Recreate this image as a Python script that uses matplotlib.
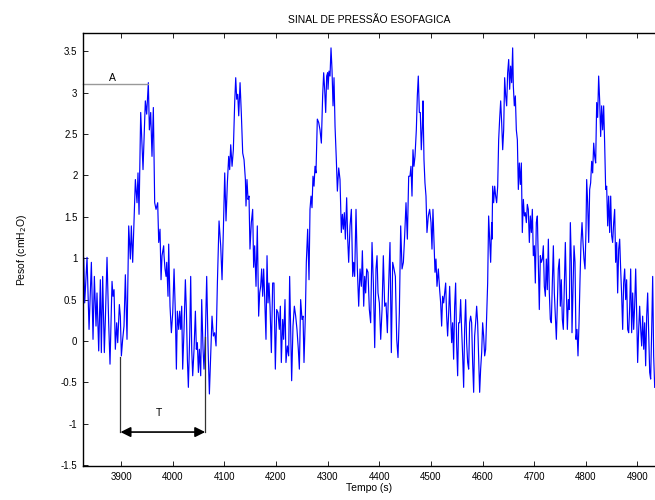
import numpy as np
import matplotlib
matplotlib.use("Agg")
import matplotlib.pyplot as plt

plt.rcParams['font.family'] = ['Liberation Sans', 'DejaVu Sans']

# ---- data: time (s) and oesophageal pressure (cmH2O) ----
t1 = [3824.5, 3827.7, 3829.7, 3834.2, 3838.1, 3842.6, 3845.8, 3848.4, 3851.6, 3853.5,
      3856.8, 3860.0, 3861.9, 3864.5, 3867.7, 3869.7, 3872.9, 3876.1, 3878.7, 3882.6,
      3884.5, 3886.5, 3889.0, 3891.6, 3893.6, 3896.8, 3898.7, 3900.7, 3903.2, 3905.8,
      3908.4, 3911.6, 3914.9, 3918.1, 3920.0, 3922.6, 3924.5, 3927.8, 3931.0, 3932.9,
      3934.9, 3938.1, 3942.6, 3947.1, 3949.7, 3952.9, 3954.9, 3957.5, 3960.0, 3962.6,
      3965.2, 3967.8, 3971.0, 3973.0, 3975.5, 3977.5, 3979.4, 3982.6]
p1 = [0.75, 1.01, 0.46, 1.01, 0.14, 0.95, 0.02, 0.78, 0.18, 0.58,
      -0.12, 0.74, -0.14, 0.78, -0.14, 0.26, 1.01, 0.22, -0.28, 0.72,
      0.54, 0.62, -0.10, 0.22, -0.02, 0.44, 0.30, -0.18, 0.02, 0.18,
      0.80, 0.02, 1.39, 0.99, 1.39, 0.95, 1.31, 1.95, 1.67, 2.03,
      1.53, 2.76, 2.07, 2.90, 2.74, 3.12, 2.55, 2.76, 2.23, 2.82,
      1.67, 1.59, 1.67, 1.19, 1.35, 0.74, 1.03, 1.15]

t2 = [3983.3, 3985.2, 3987.2, 3988.5, 3991.0, 3992.3, 3994.9, 3997.5, 4000.1, 4002.7,
      4005.2, 4007.2, 4009.1, 4011.7, 4013.6, 4015.6, 4017.5, 4019.4, 4022.0, 4024.6,
      4026.5, 4028.5, 4030.4, 4033.0, 4034.9, 4036.9, 4038.8, 4041.4, 4044.0, 4045.9,
      4047.8, 4049.8, 4051.7, 4054.3, 4056.2, 4058.8, 4060.7, 4063.3, 4065.9, 4068.5,
      4071.1, 4073.7, 4076.2, 4078.8, 4081.4, 4084.0, 4086.6, 4089.8, 4093.0, 4095.6,
      4098.2, 4100.8, 4103.3, 4105.9, 4108.5, 4110.4, 4112.4, 4115.0, 4117.5, 4120.1,
      4122.1, 4124.0, 4126.0, 4127.9, 4130.5, 4133.0, 4135.6, 4138.2, 4140.8]
p2 = [1.03, 0.87, 0.78, 0.95, 0.54, 1.17, 0.42, 0.10, 0.34, 0.87,
      0.34, -0.34, 0.36, 0.14, 0.36, 0.14, 0.42, -0.34, 0.14, 0.74,
      0.38, -0.22, -0.56, 0.06, 0.78, -0.10, -0.42, -0.10, 0.36, -0.10,
      -0.02, -0.38, -0.10, -0.42, 0.50, -0.10, -0.34, 0.06, 0.78, -0.06,
      -0.64, -0.18, 0.30, 0.06, 0.10, -0.06, 0.70, 1.45, 1.15, 0.74,
      1.35, 2.03, 1.45, 1.91, 2.23, 2.07, 2.37, 2.11, 2.31, 2.88,
      3.18, 2.92, 2.98, 2.72, 3.12, 2.74, 2.27, 2.19, 1.95]

t3 = [4142.0, 4143.9, 4145.9, 4147.8, 4149.7, 4152.3, 4154.9, 4156.8, 4158.8, 4161.4,
      4163.9, 4166.5, 4168.5, 4170.4, 4172.3, 4174.3, 4176.2, 4178.1, 4180.7, 4182.7,
      4184.6, 4186.5, 4188.5, 4191.1, 4193.6, 4196.2, 4198.8, 4201.4, 4204.0, 4206.5,
      4208.5, 4210.4, 4213.0, 4214.9, 4217.5, 4219.4, 4222.0, 4224.6, 4226.5, 4228.5,
      4230.4, 4233.0, 4235.6, 4238.2, 4240.7, 4243.3, 4245.3, 4247.8, 4250.4, 4252.4,
      4254.3, 4256.9, 4258.8, 4261.4, 4264.0, 4265.9, 4267.9, 4269.8, 4271.7, 4273.7,
      4275.6, 4277.5, 4280.1, 4282.7, 4285.3, 4287.9, 4290.4, 4292.4, 4294.3, 4296.3,
      4298.2, 4300.1]
p3 = [1.63, 1.95, 1.71, 1.75, 1.11, 1.43, 1.59, 0.89, 1.15, 0.66,
      1.39, 0.30, 0.58, 0.66, 0.87, 0.54, 0.87, 0.54, 0.02, 1.03,
      0.46, 0.70, 0.42, -0.14, 0.70, 0.70, -0.34, 0.38, 0.34, 0.14,
      0.42, -0.26, 0.26, 0.02, 0.50, -0.26, -0.06, -0.18, 0.78, 0.14,
      -0.48, 0.18, 0.42, 0.30, 0.14, -0.10, -0.34, 0.50, 0.26, 0.30,
      -0.26, 0.30, 0.95, 1.35, 0.74, 1.59, 1.75, 1.61, 1.99, 1.87,
      2.11, 2.03, 2.68, 2.64, 2.55, 2.39, 2.96, 3.24, 3.04, 2.76,
      3.20, 3.24]

t4 = [4300.8, 4302.7, 4304.7, 4306.6, 4308.5, 4310.5, 4312.4, 4314.4, 4316.9, 4318.9,
      4321.5, 4324.0, 4326.6, 4328.6, 4330.5, 4332.4, 4334.4, 4336.9, 4338.9, 4340.8,
      4343.4, 4346.0, 4348.6, 4350.5, 4352.4, 4355.0, 4357.6, 4360.2, 4362.8, 4365.3,
      4367.3, 4369.9, 4371.8, 4373.7, 4375.7, 4378.2, 4380.8, 4383.4, 4386.0, 4388.6,
      4391.2, 4393.7, 4395.7, 4397.6, 4400.2, 4402.8, 4405.4, 4407.9, 4410.5, 4413.1,
      4415.7, 4418.3, 4420.8, 4423.4, 4426.0, 4428.6, 4431.2, 4433.8, 4436.3, 4438.9,
      4441.5, 4444.1, 4446.7, 4449.2, 4451.8, 4454.4, 4457.0]
p4 = [3.04, 3.26, 3.20, 3.54, 3.28, 2.84, 3.18, 2.59, 2.19, 1.81,
      2.09, 1.95, 1.31, 1.53, 1.35, 1.55, 1.23, 1.73, 1.23, 0.95,
      1.39, 1.59, 0.78, 0.95, 0.78, 1.59, 0.87, 0.42, 0.87, 0.66,
      1.09, 0.42, 0.78, 0.58, 0.87, 0.83, 0.38, 0.22, 1.19, 0.70,
      -0.08, 0.87, 1.03, 0.58, 0.46, 0.02, 0.38, 1.03, 0.42, 0.46,
      0.10, 0.70, 1.19, -0.14, 0.95, 0.87, 0.78, 0.02, -0.20, 0.34,
      1.39, 0.87, 0.95, 1.27, 1.67, 1.23, 1.99]

t5 = [4459.5, 4461.4, 4463.4, 4465.3, 4467.2, 4469.2, 4471.8, 4473.7, 4475.6, 4477.6,
      4479.5, 4481.4, 4483.4, 4484.7, 4486.6, 4488.5, 4490.5, 4492.4, 4495.0, 4497.6,
      4500.2, 4502.1, 4504.0, 4506.0, 4507.9, 4509.8, 4511.8, 4514.4, 4516.9, 4518.9,
      4520.8, 4522.7, 4524.7, 4526.6, 4528.6, 4530.5, 4532.4, 4534.4, 4536.3, 4538.2,
      4540.2, 4542.1, 4544.0, 4546.0, 4547.9, 4549.9, 4551.8, 4553.7, 4555.7, 4557.6,
      4559.5, 4561.5, 4563.4, 4565.3, 4567.3, 4569.2, 4571.2, 4573.1, 4575.0, 4577.0,
      4578.9, 4580.8, 4582.8, 4584.7, 4586.6, 4588.6, 4590.5, 4592.5, 4594.4, 4596.3,
      4598.3, 4600.2, 4602.1, 4604.1, 4606.0, 4607.9, 4609.9, 4611.8, 4613.7, 4615.7,
      4617.6]
p5 = [1.99, 2.11, 1.75, 2.31, 2.11, 2.23, 2.55, 2.96, 3.20, 2.76,
      2.76, 2.31, 2.59, 2.90, 2.19, 1.91, 1.75, 1.31, 1.51, 1.59,
      1.43, 1.11, 1.59, 1.19, 0.83, 0.99, 0.66, 0.87, 0.62, 0.46,
      0.18, 0.54, 0.46, 0.58, 0.70, 0.30, 0.06, 0.34, 0.66, 0.30,
      -0.02, 0.22, -0.22, 0.42, 0.70, -0.06, -0.42, 0.22, 0.22, 0.50,
      0.14, -0.18, -0.56, 0.14, 0.50, -0.02, -0.26, -0.34, 0.22, 0.30,
      0.22, -0.26, -0.62, 0.06, 0.22, 0.42, 0.22, -0.22, -0.62, -0.34,
      -0.14, 0.22, 0.06, -0.18, -0.10, 0.30, 0.70, 1.51, 1.23, 0.95,
      1.43]

t6 = [4618.3, 4619.6, 4621.5, 4623.5, 4625.4, 4627.3, 4629.3, 4631.2, 4633.1, 4635.1,
      4637.0, 4639.0, 4640.9, 4642.8, 4644.8, 4646.7, 4648.6, 4650.6, 4652.5, 4654.4,
      4656.4, 4658.3, 4659.6, 4661.5, 4663.5, 4665.4, 4667.4, 4669.3, 4671.2, 4673.2,
      4675.1, 4677.0, 4679.0, 4680.9, 4682.8, 4684.8, 4686.7, 4688.6, 4690.6, 4692.5,
      4694.5, 4696.4, 4698.3, 4700.3, 4702.2, 4704.1, 4706.1, 4708.0, 4709.9, 4711.9,
      4713.8, 4715.8, 4717.7, 4719.6, 4721.6, 4723.5, 4725.4, 4727.4, 4729.3, 4731.2,
      4733.2, 4735.1, 4737.1, 4739.0, 4740.9, 4742.9, 4744.8, 4746.7, 4748.7, 4750.6,
      4752.5, 4754.5, 4756.4, 4758.3, 4760.3, 4762.2, 4764.2, 4766.1, 4768.0, 4770.0,
      4771.9]
p6 = [1.23, 1.87, 1.67, 1.87, 1.75, 1.67, 1.87, 2.43, 2.68, 2.90,
      2.64, 2.31, 2.55, 3.18, 2.96, 2.84, 3.24, 3.40, 3.04, 3.32,
      3.12, 3.54, 3.08, 2.84, 2.96, 2.55, 2.43, 1.83, 2.15, 1.89,
      2.15, 1.31, 1.71, 1.51, 1.55, 1.43, 1.65, 1.59, 1.19, 1.51,
      1.31, 1.59, 1.03, 1.15, 0.70, 1.43, 1.51, 0.95, 0.38, 1.03,
      0.95, 0.99, 1.15, 0.66, 0.54, 0.99, 0.62, 1.23, 0.58, 0.26,
      0.22, 0.70, 1.15, 0.58, 0.30, 0.02, 0.46, 0.87, 0.99, 0.42,
      0.74, 0.26, 0.14, 0.66, 1.19, 0.62, 0.14, 0.50, 0.38, 1.43,
      0.95]

t7 = [4773.2, 4775.1, 4777.1, 4779.0, 4780.9, 4782.9, 4784.8, 4786.8, 4788.7, 4790.6,
      4792.6, 4794.5, 4796.4, 4798.4, 4800.3, 4801.6, 4803.5, 4805.5, 4807.4, 4809.3,
      4811.3, 4813.2, 4815.2, 4817.1, 4819.0, 4821.0, 4822.9, 4824.8, 4826.8, 4828.7,
      4830.6, 4832.6, 4834.5, 4836.4, 4838.4, 4840.3, 4842.3, 4844.2, 4846.1, 4848.1,
      4850.0, 4851.9, 4853.9, 4855.8, 4857.7, 4859.7, 4861.6, 4863.6, 4865.5, 4867.4,
      4869.4, 4871.3, 4873.2, 4875.2, 4877.1, 4879.0, 4881.0, 4882.9, 4884.9, 4886.8,
      4888.7, 4890.7, 4892.6, 4894.5, 4896.5, 4898.4, 4900.3, 4902.3, 4904.2, 4906.2,
      4908.1, 4910.0, 4912.0, 4913.9, 4915.8, 4917.8, 4919.7, 4921.6, 4923.6, 4925.5,
      4927.5, 4929.4, 4931.3, 4933.3]
p7 = [0.10, 0.62, 1.15, 0.95, 0.02, 0.14, -0.18, 0.22, 0.74, 1.19,
      1.43, 1.19, 0.99, 0.87, 1.35, 1.95, 1.67, 1.19, 1.83, 1.91,
      2.17, 2.03, 2.39, 2.23, 2.15, 2.88, 2.70, 3.20, 2.90, 2.47,
      2.84, 2.55, 2.84, 2.39, 1.83, 1.87, 1.39, 1.75, 1.31, 1.75,
      1.27, 1.19, 1.43, 1.59, 0.95, 1.19, 0.58, 1.11, 1.23, 0.87,
      0.54, 0.14, 0.70, 0.87, 0.50, 0.74, 0.14, 0.10, 0.42, 0.87,
      0.10, 0.58, 0.14, 0.42, 0.87, 0.34, -0.26, 0.14, 0.42, 0.14,
      -0.06, 0.30, -0.10, 0.22, -0.30, 0.30, 0.58, 0.10, -0.38, -0.46,
      0.14, 0.78, -0.18, -0.56]

xticks = [3900, 4000, 4100, 4200, 4300, 4400, 4500, 4600, 4700, 4800, 4900]
yticks = [-1.5, -1, -0.5, 0, 0.5, 1, 1.5, 2, 2.5, 3, 3.5]

# annotation values
A_level = 3.10
A_end = 3953
T_start, T_end = 3899, 4063
T_start_top, T_end_top = -0.19, 0.05
T_arrow_level = -1.10

time = np.concatenate([t1, t2, t3, t4, t5, t6, t7])
pres = np.concatenate([p1, p2, p3, p4, p5, p6, p7])

fig = plt.figure(figsize=(6.55, 5.0), dpi=100)
ax = fig.add_axes([83 / 655, 34 / 500, 1 - 83 / 655, 433 / 500])
ax.plot(time, pres, color=(0, 0, 1), lw=0.85)

ax.set_xlim(3826.4, 4933.9)
ax.set_ylim(-1.51, 3.72)
ax.set_xticks(xticks)
ax.set_yticks(yticks)
ax.set_yticklabels(['%g' % v for v in yticks])
ax.tick_params(direction='in', length=3.5, width=0.6, labelsize=7, top=True, right=False,
               pad=4, colors='black')
for s in ['top', 'bottom', 'left']:
    ax.spines[s].set_linewidth(1.0)
ax.spines['right'].set_visible(False)

ax.set_title('SINAL DE PRESSÃO ESOFAGICA', fontsize=7.5, pad=7)
ax.set_xlabel('Tempo (s)', fontsize=7.5, labelpad=1)
ax.set_ylabel('Pesof (cmH$_2$O)', fontsize=7.5, labelpad=23)

# annotations A and T
ax.plot([3826.4, A_end], [A_level, A_level], color='#999999', lw=1.0, clip_on=False)
ax.text(3883, A_level + 0.02, 'A', fontsize=7.5, ha='center', va='bottom')
ax.plot([T_start, T_start], [T_start_top, T_arrow_level], color='#333333', lw=0.9)
ax.plot([T_end, T_end], [T_end_top, T_arrow_level], color='#333333', lw=0.9)
ax.annotate('', xy=(T_start, T_arrow_level), xytext=(T_end, T_arrow_level),
            arrowprops=dict(arrowstyle='<|-|>', color='black', lw=1.2,
                            mutation_scale=15, shrinkA=0, shrinkB=0))
ax.text(3974, -0.87, 'T', fontsize=7.5, ha='center', va='center')

fig.savefig('out.png', dpi=100)
